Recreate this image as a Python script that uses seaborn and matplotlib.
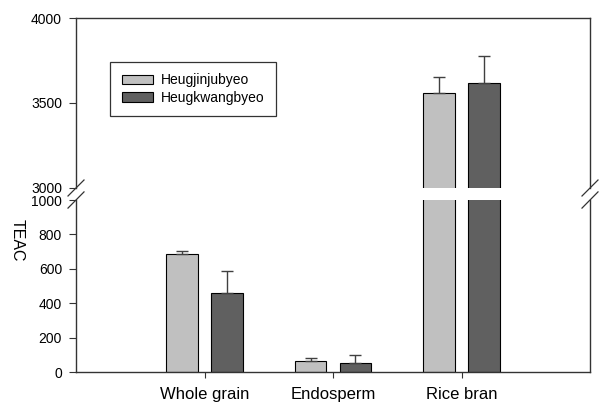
import matplotlib
matplotlib.use("Agg")
import matplotlib.pyplot as plt
import seaborn as sns
import pandas as pd

categories = ['Whole grain', 'Endosperm', 'Rice bran']
varieties = ['Heugjinjubyeo', 'Heugkwangbyeo']
heugjinjubyeo = [688, 66, 3557]
heugjinjubyeo_err = [15, 17, 94]
heugkwangbyeo = [458, 51, 3619]
heugkwangbyeo_err = [129, 50, 159]

top_ticks = [3000, 3500, 4000]
bottom_ticks = [0, 200, 400, 600, 800, 1000]

plt.rcParams['font.family'] = ['Liberation Sans', 'DejaVu Sans']

df = pd.DataFrame({
    'part': categories * 2,
    'variety': [varieties[0]] * 3 + [varieties[1]] * 3,
    'TEAC': heugjinjubyeo + heugkwangbyeo,
    'err': heugjinjubyeo_err + heugkwangbyeo_err,
})
palette = {varieties[0]: '#c0c0c0', varieties[1]: '#606060'}

W, H = 600, 403
fig = plt.figure(figsize=(W / 100, H / 100), dpi=100)
left, right = 76, 590
ax_top = fig.add_axes([left / W, 1 - 188 / H, (right - left) / W, 170 / H])
ax_bot = fig.add_axes([left / W, 1 - 372 / H, (right - left) / W, 172 / H])

spine_col = '#333333'
for ax, show_legend in ((ax_top, True), (ax_bot, False)):
    sns.barplot(data=df, x='part', y='TEAC', hue='variety', hue_order=varieties,
                order=categories, palette=palette, errorbar=None, width=0.7,
                gap=0.29, edgecolor='black', linewidth=0.8, saturation=1,
                legend=show_legend, ax=ax)
    # upper error bars only
    for cont, var in zip(ax.containers, varieties):
        sub = df[df['variety'] == var].set_index('part').loc[categories]
        xs = [p.get_x() + p.get_width() / 2 for p in cont.patches]
        ax.errorbar(xs, sub['TEAC'].values,
                    yerr=[[0] * len(xs), sub['err'].values],
                    fmt='none', ecolor='#404040', elinewidth=1.0,
                    capsize=4, capthick=1.0, zorder=1)
    ax.set_xlim(-1, 3)
    ax.set_xlabel('')
    ax.set_ylabel('')
    for s in ax.spines.values():
        s.set_color(spine_col)
        s.set_linewidth(1.0)
    ax.tick_params(axis='y', direction='out', length=5, width=0.8,
                   color=spine_col, labelsize=10, pad=5)

ax_top.set_ylim(3000, 4000)
ax_top.set_yticks(top_ticks)
ax_top.spines['bottom'].set_visible(False)
ax_top.tick_params(axis='x', bottom=False, labelbottom=False)

ax_bot.set_ylim(0, 1000)
ax_bot.set_yticks(bottom_ticks)
ax_bot.spines['top'].set_visible(False)
ax_bot.tick_params(axis='x', direction='out', length=4, width=0.8,
                   color=spine_col, labelsize=12, pad=7)
ax_bot.set_ylabel('TEAC', rotation=270, fontsize=11.5, va='center', ha='center')
ax_bot.yaxis.set_label_coords(-0.115, 0.767)

# legend
handles, labels = ax_top.get_legend_handles_labels()
leg = ax_top.legend(handles, labels, loc='upper left',
                    bbox_to_anchor=(0.067, 0.74), borderaxespad=0,
                    frameon=True, fancybox=False, fontsize=10,
                    handlelength=2.3, handleheight=0.65, handletextpad=0.55,
                    labelspacing=0.25, borderpad=0.8, title=None)
leg.get_frame().set_edgecolor('black')
leg.get_frame().set_linewidth(0.9)

# break marks
dx, dy = 8 / (right - left), 8 / 170
kw = dict(color=spine_col, linewidth=0.9, clip_on=False)
for xpos in (0, 1):
    ax_top.plot([xpos - dx, xpos + dx], [-dy, dy], transform=ax_top.transAxes, **kw)
    ax_bot.plot([xpos - dx, xpos + dx], [1 - dy, 1 + dy], transform=ax_bot.transAxes, **kw)

fig.savefig('out.png', dpi=100)
